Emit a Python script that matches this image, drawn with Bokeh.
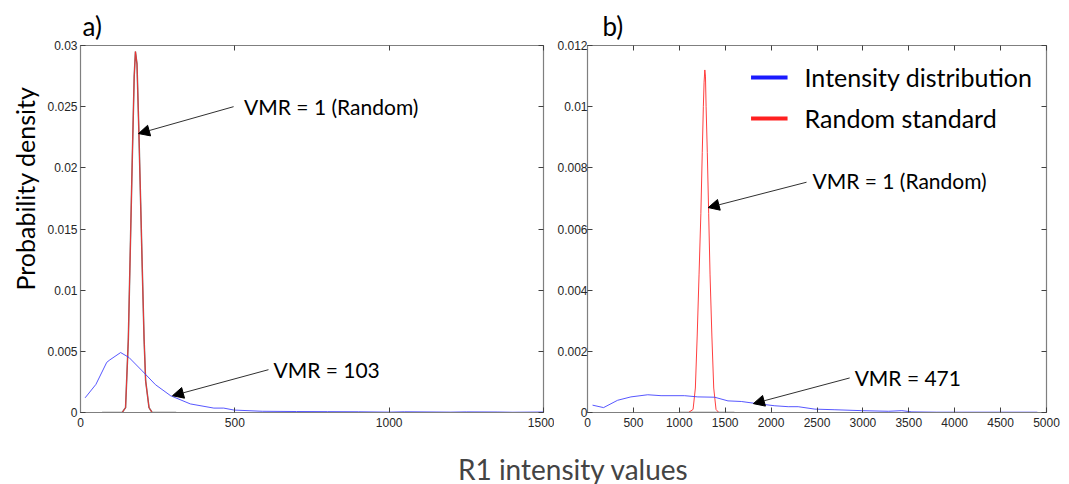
import math
from bokeh.plotting import figure
from bokeh.models import (Range1d, LinearAxis, FixedTicker, CustomJSTickFormatter, Label,
                          Arrow, NormalHead, Legend, LegendItem, Title)
from bokeh.layouts import column, row
from bokeh.embed import file_html
from bokeh.resources import INLINE

# ---------------- data ----------------
# panel a
a_blue_x = [15, 50, 85, 95, 130, 157, 200, 243, 292, 356, 432, 464, 497, 589, 700, 800, 900,
            1000, 1050, 1100, 1200, 1250, 1350, 1400, 1500]
a_blue_y = [0.0012, 0.0023, 0.0041, 0.0043, 0.0049, 0.0045, 0.0034, 0.00227, 0.00137, 0.0007,
            0.00036, 0.00036, 0.0002, 0.0001, 0.00008, 0.00007, 0.00006,
            0.00003, 0.00006, 0.00005, 0.00003, 0.00005, 0.00004, 0.00002, 0.00004]
a_red_x = [0, 135, 146, 155, 162, 168, 174, 178, 183, 189, 195, 200, 206, 211, 222, 232, 1500]
a_red_y = [0, 0, 0.0004, 0.006, 0.0141, 0.021, 0.0275, 0.0295, 0.0285, 0.0231, 0.017, 0.0119,
           0.006, 0.0026, 0.0004, 0, 0]
a_grey_x = [70, 135, 146, 155, 162, 168, 174, 178, 183, 189, 195, 200, 206, 211, 222, 232, 310]
a_grey_y = [0, 0, 0.0004, 0.006, 0.0141, 0.021, 0.0275, 0.0295, 0.0285, 0.0231, 0.017, 0.0119,
            0.006, 0.0026, 0.0004, 0, 0]

# panel b
b_blue_x = [55, 175, 328, 473, 656, 801, 1056, 1202, 1384, 1530, 1676, 1821, 2040, 2186, 2295,
            2477, 2695, 2987, 3279, 3424, 3533, 3800, 4200, 4600, 4900]
b_blue_y = [0.00024, 0.00016, 0.0004, 0.00051, 0.00058, 0.00055, 0.00055, 0.00051, 0.0005,
            0.00038, 0.00036, 0.0003, 0.00022, 0.00019, 0.00019, 0.00011, 0.00009, 0.00006,
            0.00004, 0.00006, 0.00002, 0.00001, 0.00001, 0.00001, 0.00001]
b_red_x = [0, 1100, 1150, 1175, 1195, 1215, 1235, 1250, 1262, 1270, 1278, 1285, 1292, 1305,
           1320, 1335, 1355, 1375, 1400, 1430, 5000]
b_red_y = [0, 0, 0.0001, 0.0008, 0.0025, 0.0045, 0.0065, 0.0085, 0.0100, 0.0108, 0.0112,
           0.0110, 0.0100, 0.0085, 0.0065, 0.0045, 0.0025, 0.0008, 0.0001, 0, 0]
b_grey_x = [1000, 1600]
b_grey_y = [0, 0]

a_xticks = [0, 500, 1000, 1500]
a_yticks = [0, 0.005, 0.01, 0.015, 0.02, 0.025, 0.03]
b_xticks = [0, 500, 1000, 1500, 2000, 2500, 3000, 3500, 4000, 4500, 5000]
b_yticks = [0, 0.002, 0.004, 0.006, 0.008, 0.01, 0.012]

series_names = ["Intensity distribution", "Random standard"]
panel_titles = ["a)", "b)"]
y_title = "Probability density"
x_title = "R1 intensity values"

# annotations: (text, text x, text y, arrow tail x, tail y, head x, head y)
a_notes = [("VMR = 1 (Random)", 530, 0.025, 496, 0.025, 188, 0.0228),
           ("VMR = 103", 625, 0.0035, 609, 0.0035, 298, 0.00137)]
b_notes = [("VMR = 1 (Random)", 2450, 0.0076, 2386, 0.00753, 1315, 0.0067),
           ("VMR = 471", 2910, 0.00113, 2856, 0.00113, 1807, 0.00029)]

BLUE = "#3a3aff"
RED = "#ff2a2a"
GREY = "#505050"
TXT_FONT = "Lato"
TICK_FONT = "Liberation Sans"

fmt = CustomJSTickFormatter(code="return String(Number(tick.toPrecision(6)));")
blank = CustomJSTickFormatter(code="return '';")


def make_panel(width, height, xr, yr, xticks, yticks, mb_left, mb_right, ystand,
               title, title_offset):
    p = figure(width=width, height=height, x_range=Range1d(*xr), y_range=Range1d(*yr),
               output_backend="svg", toolbar_location=None, title=title,
               min_border_left=mb_left, min_border_right=mb_right,
               min_border_top=45, min_border_bottom=22)
    p.title.align = "left"
    p.title.offset = title_offset
    p.title.text_font = TXT_FONT
    p.title.text_font_size = "26px"
    p.title.text_font_style = "normal"
    p.title.text_color = "black"
    p.title.standoff = 7
    p.grid.visible = False
    p.outline_line_color = "#7f7f7f"
    p.outline_line_width = 1.2
    p.background_fill_color = "white"
    p.border_fill_color = "white"
    for ax, ticks in ((p.xaxis[0], xticks), (p.yaxis[0], yticks)):
        ax.ticker = FixedTicker(ticks=ticks)
        ax.formatter = fmt
        ax.axis_line_color = "#7f7f7f"
        ax.major_tick_line_color = "#404040"
        ax.major_tick_in = 5
        ax.major_tick_out = 0
        ax.minor_tick_line_color = None
        ax.major_label_text_font = TICK_FONT
        ax.major_label_text_font_size = "12px"
        ax.major_label_text_color = "#262626"
    p.xaxis[0].major_label_standoff = 5
    p.yaxis[0].major_label_standoff = ystand
    for ticks, side in ((xticks, "above"), (yticks, "right")):
        ax = LinearAxis(ticker=FixedTicker(ticks=ticks), formatter=blank,
                        major_label_standoff=0, axis_line_color=None, major_tick_in=5,
                        major_tick_out=0, minor_tick_line_color=None,
                        major_tick_line_color="#404040", major_label_text_font_size="12px")
        p.add_layout(ax, side)
    return p


def add_notes(p, notes):
    for text, tx, ty, ax0, ay0, ax1, ay1 in notes:
        p.add_layout(Arrow(end=NormalHead(size=11, fill_color="black", line_color="black"),
                           x_start=ax0, y_start=ay0, x_end=ax1, y_end=ay1,
                           line_color="#303030", line_width=1))
        p.add_layout(Label(x=tx, y=ty, text=text, text_font=TXT_FONT,
                           text_font_size="21px", text_color="black",
                           text_baseline="middle"))


H = 434
pa = make_panel(554, H, (0, 1500), (0, 0.03), a_xticks, a_yticks, 80, 11, 3,
                panel_titles[0], 2)
pb = make_panel(512, H, (0, 5000), (0, 0.012), b_xticks, b_yticks, 30, 20, 0,
                panel_titles[1], 15)

# shared y title, on the left of panel a
pa.add_layout(Title(text=y_title, align="left", offset=122, text_font=TXT_FONT,
                    text_font_size="25px", text_font_style="normal", text_color="black",
                    standoff=10), "left")

# panel a lines
pa.line(a_grey_x, a_grey_y, line_color=GREY, line_width=1.5, line_alpha=0.8)
pa.line(a_red_x, a_red_y, line_color=RED, line_width=1, line_alpha=0.85)
pa.line(a_blue_x, a_blue_y, line_color=BLUE, line_width=1, line_alpha=0.85)
add_notes(pa, a_notes)

# panel b lines
pb.line(b_grey_x, b_grey_y, line_color=GREY, line_width=1.5, line_alpha=0.8)
pb.line(b_red_x, b_red_y, line_color=RED, line_width=1, line_alpha=0.9)
pb.line(b_blue_x, b_blue_y, line_color=BLUE, line_width=1, line_alpha=0.85)
add_notes(pb, b_notes)

# legend (thick sample lines, renderers with no visible data)
nan = float("nan")
lb = pb.line([nan], [nan], line_color="#1a1aff", line_width=4)
lr = pb.line([nan], [nan], line_color="#ff2020", line_width=4)
leg = Legend(items=[LegendItem(label=series_names[0], renderers=[lb]),
                    LegendItem(label=series_names[1], renderers=[lr])],
             location="top_right", border_line_color=None, background_fill_alpha=0,
             label_text_font=TXT_FONT, label_text_font_size="25px", label_text_color="black",
             glyph_width=37, glyph_height=36, label_standoff=17, spacing=5,
             padding=0, margin=14)
pb.add_layout(leg)

# x title strip
px = figure(width=1066, height=50, x_range=Range1d(0, 1), y_range=Range1d(0, 1),
            output_backend="svg", toolbar_location=None, x_axis_type=None, y_axis_type=None,
            min_border=0)
px.grid.visible = False
px.outline_line_color = None
px.add_layout(Label(x=573, y=16, x_units="screen", y_units="screen", text=x_title,
                    text_align="center", text_baseline="middle",
                    text_font=TXT_FONT, text_font_size="28px"))

layout = column(row(pa, pb, spacing=0), px, spacing=0)
open("out.html", "w").write(file_html(layout, INLINE))
